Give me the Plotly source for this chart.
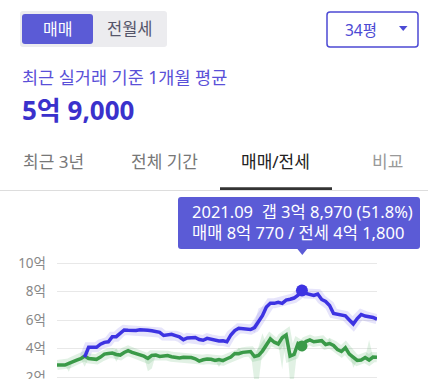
import plotly.graph_objects as go

W, H = 428, 379
FONT = "Noto Sans, Noto Sans CJK KR"

# ---------------- data ----------------
months = [f"{2016 + (6 + i) // 12}.{(6 + i) % 12 + 1:02d}" for i in range(82)]  # 2016.07 .. 2023.04

sale = [None] * 7 + [
    3.40, 4.08, 4.08, 4.08, 4.30, 4.43, 4.47, 4.83, 4.83, 5.10,
    5.30, 5.28, 5.26, 5.27, 5.32, 5.33, 5.28, 5.24, 5.19, 5.13,
    4.91, 4.95, 4.99, 4.90, 4.81, 4.62, 4.74, 4.76, 4.77, 4.63,
    4.58, 4.71, 4.64, 4.54, 4.53, 4.54, 4.47, 4.95, 5.26, 5.42,
    5.41, 5.35, 5.33, 5.47, 5.86, 6.30, 6.91, 7.17, 7.17, 7.24,
    7.17, 7.40, 7.46, 7.54, 7.74, 8.077, 7.86, 7.82, 7.72, 7.82,
    7.44, 7.30, 7.02, 6.46, 6.42, 6.36, 6.29, 6.00, 5.72, 6.10,
    6.39, 6.28, 6.23, 6.18, 6.05,
]

jeonse = [
    2.84, 2.84, 2.84, 2.95, 3.09, 3.18, 3.28, 3.47, 3.30, 3.24,
    3.24, 3.40, 3.61, 3.65, 3.68, 3.58, 3.54, 3.72, 3.85, 3.73,
    3.66, 3.56, 3.46, 3.30, 3.52, 3.54, 3.44, 3.47, 3.50, 3.42,
    3.38, 3.33, 3.38, 3.38, 3.37, 3.28, 3.12, 3.21, 3.26, 3.24,
    3.16, 3.23, 3.15, 3.28, 3.40, 3.65, 3.63, 3.73, 3.77, 3.79,
    3.44, 3.51, 3.82, 4.26, 4.67, 4.44, 4.32, 4.75, 4.95, 3.47,
    3.58, 4.35, 4.18, 4.49, 4.60, 4.47, 4.49, 4.55, 4.28, 4.35,
    4.21, 3.93, 3.79, 4.05, 3.61, 3.38, 3.16, 3.19, 3.37, 3.19,
    3.40, 3.38,
]

# transaction range extremes (months where the range spreads out)
jeonse_range_months = ["2016.10", "2017.02", "2017.10", "2018.06", "2018.07", "2019.12", "2020.05",
                       "2020.09", "2020.10", "2020.11", "2021.01", "2021.04", "2021.06", "2021.07",
                       "2022.04", "2022.10", "2023.02"]
jeonse_range_low = [2.37, 2.72, 3.07, 2.40, 2.60, 2.70, 3.63, 1.60, 1.60, 3.82, 4.67, 2.55, 1.60, 1.90,
                    4.35, 2.65, 3.19]
jeonse_range_high = [2.95, 3.47, 4.00, 3.30, 3.52, 3.23, 4.05, 3.44, 4.13, 5.07, 4.98, 5.07, 3.47, 3.58,
                     4.75, 3.38, 4.60]

sale_range_months = ["2020.09", "2020.10", "2020.11"]
sale_range_low = [5.10, 5.50, 6.30]
sale_range_high = [5.80, 6.80, 6.95]

y_ticks = [2, 4, 6, 8, 10]
y_tick_labels = ["2억", "4억", "6억", "8억", "10억"]

selected_month = "2021.09"
tooltip_line1 = "2021.09\u00a0 갭 3억 8,970 (51.8%)"
tooltip_line2 = "매매 8억 770 / 전세 4억 1,800"

# ---------------- colors ----------------
BLUE = "#3d33e2"
GREEN = "#3a9a48"
PURPLE = "#5b5bd6"


def band(vals, rmonths, rlow, rhigh):
    lo, hi = [], []
    for m, v in zip(months, vals):
        if m in rmonths:
            k = rmonths.index(m)
            lo.append(rlow[k]); hi.append(rhigh[k])
        else:
            lo.append(v); hi.append(v)
    xs = [m for m, v in zip(months, vals) if v is not None]
    lo = [l for l, v in zip(lo, vals) if v is not None]
    hi = [h for h, v in zip(hi, vals) if v is not None]
    return xs + xs[::-1], hi + lo[::-1]


def px(x, y):
    return x / W, 1 - y / H


fig = go.Figure()

bx, by = band(jeonse, jeonse_range_months, jeonse_range_low, jeonse_range_high)
fig.add_trace(go.Scatter(x=bx, y=by, fill="toself", fillcolor="rgba(70,170,90,0.16)",
                         line=dict(width=0), hoverinfo="skip", mode="lines"))
bx, by = band(sale, sale_range_months, sale_range_low, sale_range_high)
fig.add_trace(go.Scatter(x=bx, y=by, fill="toself", fillcolor="rgba(100,90,230,0.14)",
                         line=dict(width=0), hoverinfo="skip", mode="lines"))
# soft halos
fig.add_trace(go.Scatter(x=months, y=jeonse, mode="lines",
                         line=dict(color="rgba(70,170,90,0.16)", width=10), hoverinfo="skip"))
fig.add_trace(go.Scatter(x=months, y=sale, mode="lines",
                         line=dict(color="rgba(100,90,230,0.16)", width=10), hoverinfo="skip"))
# main lines
fig.add_trace(go.Scatter(x=months, y=jeonse, mode="lines", name="전세",
                         line=dict(color=GREEN, width=3.5)))
fig.add_trace(go.Scatter(x=months, y=sale, mode="lines", name="매매",
                         line=dict(color=BLUE, width=3.5)))
# selected points
si = months.index(selected_month)
fig.add_trace(go.Scatter(x=[selected_month], y=[jeonse[si]], mode="markers",
                         marker=dict(color=GREEN, size=11), hoverinfo="skip"))
fig.add_trace(go.Scatter(x=[selected_month], y=[sale[si]], mode="markers",
                         marker=dict(color=BLUE, size=12), hoverinfo="skip"))

shapes = []


def rrect(x0, y0, x1, y1, r, fill, line_color=None, lw=0):
    def P(x, y):
        a, b = px(x, y)
        return f"{a:.5f},{b:.5f}"
    path = (f"M{P(x0 + r, y0)} L{P(x1 - r, y0)} Q{P(x1, y0)} {P(x1, y0 + r)} "
            f"L{P(x1, y1 - r)} Q{P(x1, y1)} {P(x1 - r, y1)} L{P(x0 + r, y1)} "
            f"Q{P(x0, y1)} {P(x0, y1 - r)} L{P(x0, y0 + r)} Q{P(x0, y0)} {P(x0 + r, y0)} Z")
    shapes.append(dict(type="path", path=path, xref="paper", yref="paper", fillcolor=fill,
                       line=dict(color=line_color or fill, width=lw), layer="above"))


def poly(points, fill):
    s = "M" + " L".join(f"{px(x, y)[0]:.5f},{px(x, y)[1]:.5f}" for x, y in points) + " Z"
    shapes.append(dict(type="path", path=s, xref="paper", yref="paper", fillcolor=fill,
                       line=dict(width=0), layer="above"))


# toggle
rrect(20, 11, 167, 47, 3, "#ececef")
rrect(22, 14, 93, 44, 3, PURPLE)
# size selector
rrect(327, 12, 418, 47, 3, "white", "#4c4ad4", 1.5)
poly([(399, 26), (407.5, 26), (403.2, 31)], "#4c4ad4")
# separator & tab underline
shapes.append(dict(type="line", xref="paper", yref="paper", x0=0, x1=1,
                   y0=px(0, 190.5)[1], y1=px(0, 190.5)[1], line=dict(color="#dddddd", width=1)))
shapes.append(dict(type="rect", xref="paper", yref="paper", x0=px(220, 0)[0], x1=px(332, 0)[0],
                   y0=px(0, 187.3)[1], y1=px(0, 190)[1], fillcolor="#333333", line=dict(width=0)))
# crosshair
shapes.append(dict(type="line", xref="x", yref="paper", x0=selected_month, x1=selected_month,
                   y0=0, y1=px(0, 252)[1], line=dict(color="#9a9a9a", width=1.5), layer="below"))
# tooltip
rrect(178, 197, 420, 249, 3, PURPLE)
poly([(297, 248.5), (307.5, 248.5), (302.3, 255)], PURPLE)

ann = []


def text(t, x, y, size, color, anchor="center"):
    a, b = px(x, y)
    ann.append(dict(text=t, x=a, y=b, xref="paper", yref="paper", xanchor=anchor, yanchor="middle",
                    showarrow=False, font=dict(family=FONT, size=size, color=color)))


text("매매", 57.5, 29, 16, "white")
text("전월세", 129.5, 29, 16.5, "#55556a")
text("34평", 361, 29.5, 15.5, "#4c4ad4")
text("최근 실거래 기준 1개월 평균", 20, 77, 17.5, "#5a50d8", "left")
text("<b>5억 9,000</b>", 20, 110, 26, "#3a31cc", "left")
text("최근 3년", 53, 161.5, 17, "#777777")
text("전체 기간", 164, 161.5, 17, "#777777")
text("매매/전세", 275.7, 161.5, 17, "#222222")
text("비교", 387, 161.5, 17, "#999999")
text(tooltip_line1, 190, 211.7, 16.5, "white", "left")
text(tooltip_line2, 190, 232.7, 16.5, "white", "left")

ann.append(dict(text="매매", x=months[-1], y=sale[-1], xref="x", yref="y", xanchor="left",
                yanchor="middle", xshift=11, showarrow=False,
                font=dict(family=FONT, size=13.5, color="#5a4fe0")))
ann.append(dict(text="전세", x=months[-1], y=jeonse[-1], xref="x", yref="y", xanchor="left",
                yanchor="middle", xshift=11, showarrow=False,
                font=dict(family=FONT, size=13.5, color="#3a8a48")))

fig.update_layout(
    width=W, height=H, margin=dict(l=0, r=0, t=0, b=0),
    paper_bgcolor="white", plot_bgcolor="white", showlegend=False,
    font=dict(family=FONT),
    shapes=shapes, annotations=ann,
    xaxis=dict(type="category", domain=[57 / W, 377 / W], range=[0, len(months) - 1],
               showgrid=False, showticklabels=False, zeroline=False, showline=False,
               ticks="", automargin=False, fixedrange=True),
    yaxis=dict(domain=[0, 1 - 255 / H], range=[10 - (379 - 263) / 14.25, 10 + 8 / 14.25],
               tickvals=y_ticks, ticktext=y_tick_labels, showgrid=True, gridcolor="#e8e8e8",
               gridwidth=1, zeroline=False, showline=False, ticks="", ticklabelstandoff=10,
               ticklabeloverflow="allow",
               tickfont=dict(family=FONT, size=13.5, color="#888888"), automargin=False,
               fixedrange=True),
)

fig.write_html("out.html", config={"displayModeBar": False},
               post_script="document.body.style.margin='0';document.body.style.overflow='hidden';")
